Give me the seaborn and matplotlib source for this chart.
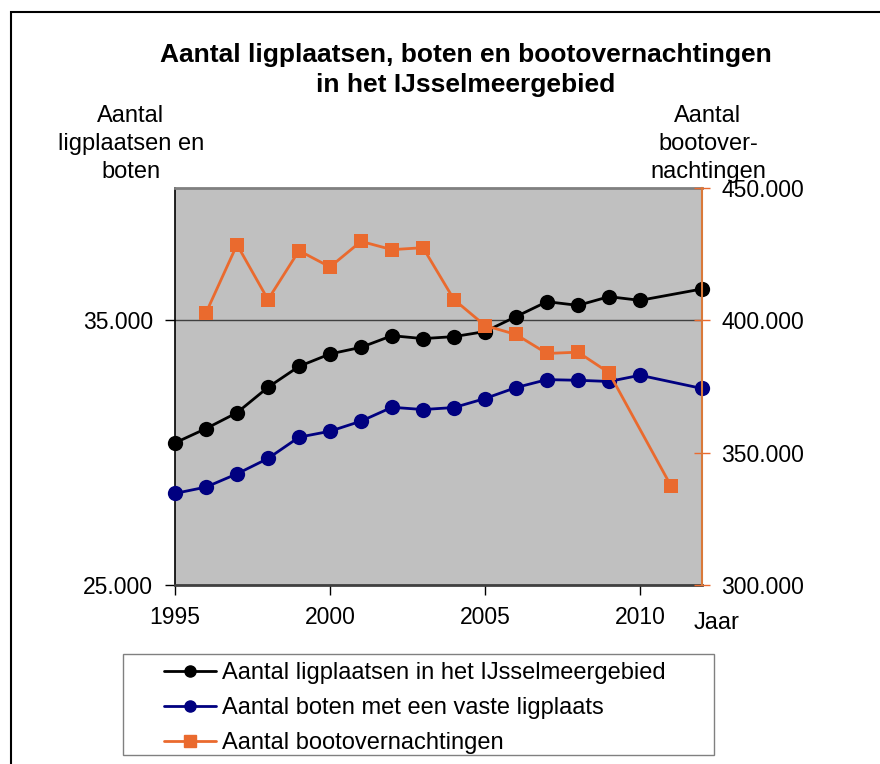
import matplotlib.pyplot as plt
import seaborn as sns
import pandas as pd
from matplotlib.lines import Line2D
from matplotlib.patches import Rectangle
from matplotlib.ticker import FixedLocator, FuncFormatter

# waarden
jaren_ligplaatsen = [1995, 1996, 1997, 1998, 1999, 2000, 2001, 2002, 2003,
                     2004, 2005, 2006, 2007, 2008, 2009, 2010, 2012]
ligplaatsen = [30370, 30910, 31510, 32470, 33260, 33730, 33980, 34420, 34310,
               34385, 34575, 35140, 35705, 35565, 35895, 35755, 36185]
boten = [28460, 28700, 29200, 29780, 30585, 30810, 31190, 31715, 31630,
         31705, 32045, 32460, 32760, 32735, 32690, 32925, 32425]

jaren_overnachtingen = [1996, 1997, 1998, 1999, 2000, 2001, 2002, 2003,
                        2004, 2005, 2006, 2007, 2008, 2009, 2011]
overnachtingen = [402830, 428580, 407840, 426320, 420170, 429830, 426700, 427450,
                  407840, 398040, 394650, 387480, 387970, 380200, 337440]

labels = ['Aantal ligplaatsen in het IJsselmeergebied',
          'Aantal boten met een vaste ligplaats',
          'Aantal bootovernachtingen']
kleuren = ['#000000', '#000080', '#EA6A2E']

x_ticks = [1995, 2000, 2005, 2010]
y_ticks_links = [25000, 35000]
y_ticks_rechts = [300000, 350000, 400000, 450000]

df_lig = pd.DataFrame({'Jaar': jaren_ligplaatsen, 'Waarde': ligplaatsen})
df_boten = pd.DataFrame({'Jaar': jaren_ligplaatsen, 'Waarde': boten})
df_nacht = pd.DataFrame({'Jaar': jaren_overnachtingen, 'Waarde': overnachtingen})

sns.set_theme(style='white')
plt.rcParams['font.family'] = ['Liberation Sans', 'DejaVu Sans']
plt.rcParams['text.color'] = 'black'
plt.rcParams['xtick.color'] = 'black'
plt.rcParams['ytick.color'] = 'black'
plt.rcParams['xtick.labelcolor'] = 'black'
plt.rcParams['ytick.labelcolor'] = 'black'

W, H = 880, 764
fig = plt.figure(figsize=(W / 100, H / 100), dpi=100)


def fx(px):
    return px / W


def fy(py):
    return 1 - py / H


ax = fig.add_axes([fx(175), fy(585), fx(702) - fx(175), fy(188) - fy(585)])
ax.set_facecolor('#C0C0C0')

for df, kleur in [(df_lig, kleuren[0]), (df_boten, kleuren[1])]:
    sns.lineplot(data=df, x='Jaar', y='Waarde', ax=ax, color=kleur, marker='o',
                 markersize=11, markeredgecolor=kleur, markeredgewidth=0,
                 linewidth=2, clip_on=False, zorder=5)

ax2 = ax.twinx()
sns.lineplot(data=df_nacht, x='Jaar', y='Waarde', ax=ax2, color=kleuren[2], marker='s',
             markersize=10, markeredgecolor=kleuren[2], markeredgewidth=0,
             linewidth=2, clip_on=False, zorder=5)

ax.set_xlim(1995, 2012)
ax.set_ylim(25000, 40000)
ax2.set_ylim(300000, 450000)

fmt = FuncFormatter(lambda v, p: f'{int(v):,}'.replace(',', '.'))
ax.xaxis.set_major_locator(FixedLocator(x_ticks))
ax.yaxis.set_major_locator(FixedLocator(y_ticks_links))
ax.yaxis.set_major_formatter(fmt)
ax2.yaxis.set_major_locator(FixedLocator(y_ticks_rechts))
ax2.yaxis.set_major_formatter(fmt)

ax.set_xlabel('')
ax.set_ylabel('')
ax2.set_ylabel('')

ax.yaxis.grid(True, color='#404040', linewidth=1)
ax.xaxis.grid(False)

ax.tick_params(axis='y', direction='out', length=7, width=1, color='black',
               pad=9, labelsize=16.5, left=True, labelcolor='black')
ax.tick_params(axis='x', direction='out', length=7, width=1, color='black',
               pad=8, labelsize=16.5, bottom=True, labelcolor='black')
ax2.tick_params(axis='y', direction='inout', length=12, width=1, color=kleuren[2],
                pad=8, labelsize=16.5, right=True, labelcolor='black')

ax.spines['left'].set_color('black')
ax.spines['left'].set_linewidth(1.2)
ax.spines['bottom'].set_color('#404040')
ax.spines['bottom'].set_linewidth(2)
ax.spines['top'].set_color('#808080')
ax.spines['top'].set_linewidth(2)
ax.spines['right'].set_visible(False)
for s in ['left', 'top', 'bottom']:
    ax2.spines[s].set_visible(False)
ax2.spines['right'].set_color('#D9793A')
ax2.spines['right'].set_linewidth(1.5)

# titel en astitels
fig.text(fx(466), fy(70), 'Aantal ligplaatsen, boten en bootovernachtingen\nin het IJsselmeergebied',
         ha='center', va='center', fontsize=19, fontweight='bold', linespacing=1.35)
fig.text(fx(131), fy(144), 'Aantal\nligplaatsen en\nboten', ha='center', va='center',
         fontsize=17, linespacing=1.36)
fig.text(fx(708), fy(144), 'Aantal\nbootover-\nnachtingen', ha='center', va='center',
         fontsize=17, linespacing=1.36)
fig.text(fx(694), fy(629), 'Jaar', ha='left', va='baseline', fontsize=17)

# kader rond de figuur
fig.patches.append(Rectangle((fx(11), -0.1), 1.0, fy(12) + 0.1, transform=fig.transFigure,
                             fill=False, edgecolor='black', linewidth=1.5))

# legenda
fig.patches.append(Rectangle((fx(122.5), fy(755)), fx(714) - fx(122.5), fy(654) - fy(755),
                             transform=fig.transFigure, fill=False,
                             edgecolor='#808080', linewidth=1))
handles = [Line2D([], [], color=kleuren[0], marker='o', markersize=8, linewidth=2),
           Line2D([], [], color=kleuren[1], marker='o', markersize=8, linewidth=2),
           Line2D([], [], color=kleuren[2], marker='s', markersize=8, linewidth=2)]
fig.legend(handles, labels, loc='upper left', bbox_to_anchor=(fx(164), fy(662)),
           frameon=False, borderpad=0, borderaxespad=0, handlelength=2.2,
           handletextpad=0.25, labelspacing=0.55, fontsize=17)

fig.savefig('out.png', dpi=100)
